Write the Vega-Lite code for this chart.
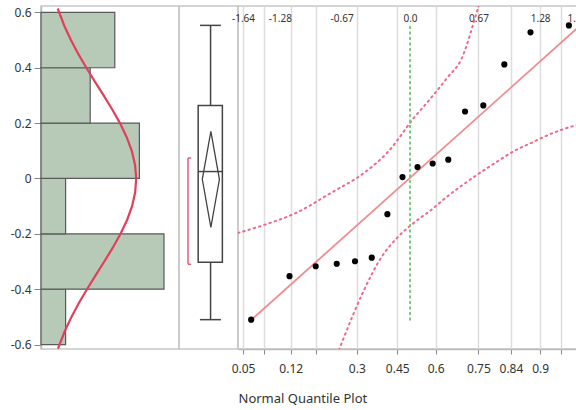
{
  "$schema": "https://vega.github.io/schema/vega-lite/v6.json",
  "padding": {"left": 9, "top": 5, "right": 0, "bottom": 0},
  "background": "white",
  "spacing": 0,
  "bounds": "flush",
  "config": {
    "view": {"stroke": "#c8c8c8", "strokeWidth": 1.5},
    "font": "Noto Sans",
    "axis": {"labelFont": "Noto Sans", "titleFont": "Noto Sans", "labelColor": "#333", "titleColor": "#333", "domainColor": "#bbb", "tickColor": "#888", "domainWidth": 1.5}
  },
  "datasets": {
    "hist": [
      {"lo": -0.6, "hi": -0.4, "count": 1},
      {"lo": -0.4, "hi": -0.2, "count": 5},
      {"lo": -0.2, "hi": 0.0, "count": 1},
      {"lo": 0.0, "hi": 0.2, "count": 4},
      {"lo": 0.2, "hi": 0.4, "count": 2},
      {"lo": 0.4, "hi": 0.6, "count": 3}
    ],
    "curve": [
      {"v": -0.615, "c": 0.689}, {"v": -0.55, "c": 0.975}, {"v": -0.5, "c": 1.239}, {"v": -0.45, "c": 1.54},
      {"v": -0.4, "c": 1.87}, {"v": -0.35, "c": 2.219}, {"v": -0.3, "c": 2.574}, {"v": -0.25, "c": 2.918},
      {"v": -0.2, "c": 3.233}, {"v": -0.15, "c": 3.5}, {"v": -0.1, "c": 3.703}, {"v": -0.05, "c": 3.829},
      {"v": 0.0, "c": 3.87}, {"v": 0.05, "c": 3.822}, {"v": 0.1, "c": 3.69}, {"v": 0.15, "c": 3.48},
      {"v": 0.2, "c": 3.209}, {"v": 0.25, "c": 2.891}, {"v": 0.3, "c": 2.546}, {"v": 0.35, "c": 2.191},
      {"v": 0.4, "c": 1.843}, {"v": 0.45, "c": 1.515}, {"v": 0.5, "c": 1.217}, {"v": 0.55, "c": 0.955},
      {"v": 0.614, "c": 0.678}
    ],
    "pts": [
      {"z": -1.565, "v": -0.51}, {"z": -1.187, "v": -0.353}, {"z": -0.929, "v": -0.317}, {"z": -0.722, "v": -0.308},
      {"z": -0.542, "v": -0.299}, {"z": -0.377, "v": -0.286}, {"z": -0.223, "v": -0.129}, {"z": -0.074, "v": 0.005},
      {"z": 0.074, "v": 0.041}, {"z": 0.223, "v": 0.054}, {"z": 0.377, "v": 0.068}, {"z": 0.542, "v": 0.242},
      {"z": 0.722, "v": 0.264}, {"z": 0.929, "v": 0.412}, {"z": 1.187, "v": 0.528}, {"z": 1.565, "v": 0.553}
    ],
    "conf": [
      {"g": "upper", "z": -1.695, "v": -0.197}, {"g": "upper", "z": -1.438, "v": -0.168}, {"g": "upper", "z": -1.103, "v": -0.121},
      {"g": "upper", "z": -0.778, "v": -0.052}, {"g": "upper", "z": -0.453, "v": 0.02}, {"g": "upper", "z": -0.217, "v": 0.096},
      {"g": "upper", "z": 0.039, "v": 0.219}, {"g": "upper", "z": 0.207, "v": 0.291}, {"g": "upper", "z": 0.374, "v": 0.367},
      {"g": "upper", "z": 0.502, "v": 0.428}, {"g": "upper", "z": 0.67, "v": 0.616}, {"g": "upper", "z": 0.7, "v": 0.652},
      {"g": "lower", "z": -0.7, "v": -0.62}, {"g": "lower", "z": -0.65, "v": -0.573}, {"g": "lower", "z": -0.453, "v": -0.403},
      {"g": "lower", "z": -0.286, "v": -0.287}, {"g": "lower", "z": -0.118, "v": -0.211}, {"g": "lower", "z": 0.049, "v": -0.157},
      {"g": "lower", "z": 0.207, "v": -0.114}, {"g": "lower", "z": 0.374, "v": -0.063}, {"g": "lower", "z": 0.532, "v": -0.02},
      {"g": "lower", "z": 0.7, "v": 0.023}, {"g": "lower", "z": 0.867, "v": 0.063}, {"g": "lower", "z": 1.025, "v": 0.099},
      {"g": "lower", "z": 1.192, "v": 0.128}, {"g": "lower", "z": 1.36, "v": 0.157}, {"g": "lower", "z": 1.517, "v": 0.179},
      {"g": "lower", "z": 1.645, "v": 0.193}
    ],
    "fit": [{"z": -1.576, "v": -0.515}, {"z": 1.8, "v": 0.593}]
  },
  "hconcat": [
    {
      "width": 138,
      "height": 343,
      "layer": [
        {
          "data": {"name": "hist"},
          "mark": {"type": "rect", "fill": "#b7c9b7", "stroke": "#5a5a5a", "strokeWidth": 1.2},
          "encoding": {
            "y": {"field": "lo", "type": "quantitative", "scale": {"domain": [-0.616, 0.623], "nice": false, "zero": false},
              "axis": {"values": [-0.6, -0.4, -0.2, 0, 0.2, 0.4, 0.6], "labelExpr": "datum.value == 0 ? '0' : (datum.value < 0 ? '-' : '') + format(abs(datum.value), '.1f')", "title": null, "tickSize": 7, "labelPadding": 3, "labelFontSize": 12, "grid": false, "labelFlush": false}},
            "y2": {"field": "hi"},
            "x": {"field": "count", "type": "quantitative", "scale": {"domain": [0, 5.61], "nice": false}, "axis": null},
            "x2": {"datum": 0}
          }
        },
        {
          "data": {"name": "curve"},
          "mark": {"type": "line", "color": "#e0405a", "strokeWidth": 2.2, "clip": true},
          "encoding": {
            "x": {"field": "c", "type": "quantitative", "axis": null},
            "y": {"field": "v", "type": "quantitative", "title": null},
            "order": {"field": "v"}
          }
        }
      ]
    },
    {
      "width": 59,
      "height": 343,
      "encoding": {
        "x": {"type": "quantitative", "scale": {"domain": [-1, 1], "nice": false}, "axis": null},
        "y": {"type": "quantitative", "scale": {"domain": [-0.616, 0.623], "nice": false, "zero": false}, "axis": null}
      },
      "layer": [
        {
          "data": {"values": [{"u": 0.07, "lo": -0.51, "hi": 0.553}]},
          "mark": {"type": "rule", "color": "#444", "strokeWidth": 1.5},
          "encoding": {"x": {"field": "u"}, "y": {"field": "lo"}, "y2": {"field": "hi"}}
        },
        {
          "data": {"values": [{"y": 0.553, "u1": -0.29, "u2": 0.42}, {"y": -0.51, "u1": -0.29, "u2": 0.42}]},
          "mark": {"type": "rule", "color": "#444", "strokeWidth": 1.5},
          "encoding": {"x": {"field": "u1"}, "x2": {"field": "u2"}, "y": {"field": "y"}}
        },
        {
          "data": {"values": [{"u1": -0.35, "u2": 0.47, "lo": -0.303, "hi": 0.264}]},
          "mark": {"type": "rect", "fill": "white", "stroke": "#444", "strokeWidth": 1.5},
          "encoding": {"x": {"field": "u1"}, "x2": {"field": "u2"}, "y": {"field": "lo"}, "y2": {"field": "hi"}}
        },
        {
          "data": {"values": [{"y": 0.025, "u1": -0.35, "u2": 0.47}]},
          "mark": {"type": "rule", "color": "#444", "strokeWidth": 1.5},
          "encoding": {"x": {"field": "u1"}, "x2": {"field": "u2"}, "y": {"field": "y"}}
        },
        {
          "data": {"values": [
            {"k": 0, "u": 0.08, "v": 0.17}, {"k": 1, "u": 0.37, "v": -0.003}, {"k": 2, "u": 0.08, "v": -0.177},
            {"k": 3, "u": -0.21, "v": -0.003}, {"k": 4, "u": 0.08, "v": 0.17}
          ]},
          "mark": {"type": "line", "color": "#444", "strokeWidth": 1.3},
          "encoding": {"x": {"field": "u"}, "y": {"field": "v"}, "order": {"field": "k"}}
        },
        {
          "data": {"values": [{"u": -0.695, "lo": -0.31, "hi": 0.074}]},
          "mark": {"type": "rule", "color": "#e06078", "strokeWidth": 1.5},
          "encoding": {"x": {"field": "u"}, "y": {"field": "lo"}, "y2": {"field": "hi"}}
        },
        {
          "data": {"values": [{"y": -0.31, "u1": -0.695, "u2": -0.59}, {"y": 0.074, "u1": -0.695, "u2": -0.59}]},
          "mark": {"type": "rule", "color": "#e06078", "strokeWidth": 1.5},
          "encoding": {"x": {"field": "u1"}, "x2": {"field": "u2"}, "y": {"field": "y"}}
        }
      ]
    },
    {
      "width": 339,
      "height": 343,
      "layer": [
        {
          "data": {"name": "conf"},
          "mark": {"type": "line", "color": "#ee6a8a", "strokeWidth": 2, "strokeDash": [1.5, 4], "strokeCap": "round", "clip": true, "interpolate": "monotone"},
          "encoding": {
            "x": {"field": "z", "type": "quantitative", "scale": {"domain": [-1.6946, 1.645], "nice": false, "zero": false},
              "axis": {"orient": "bottom", "values": [-1.645, -1.438, -1.175, -0.926, -0.524, -0.126, 0.253, 0.674, 0.994, 1.282, 1.488],
                "labelExpr": "datum.value == -1.645 ? '0.05' : datum.value == -1.175 ? '0.12' : datum.value == -0.524 ? '0.3' : datum.value == -0.126 ? '0.45' : datum.value == 0.253 ? '0.6' : datum.value == 0.674 ? '0.75' : datum.value == 0.994 ? '0.84' : datum.value == 1.282 ? '0.9' : ''",
                "grid": true, "gridColor": "#dddddd", "gridWidth": 1.5, "tickSize": 5, "labelFontSize": 12, "labelPadding": 9, "labelOverlap": false, "labelFlush": false,
                "title": "Normal Quantile Plot", "titleAnchor": "start", "titleFontSize": 13, "titleFontWeight": "normal", "titlePadding": 18}},
            "y": {"field": "v", "type": "quantitative", "scale": {"domain": [-0.616, 0.623], "nice": false, "zero": false}, "axis": null},
            "detail": {"field": "g"},
            "order": {"field": "z"}
          }
        },
        {
          "data": {"name": "fit"},
          "mark": {"type": "line", "color": "#f08c90", "strokeWidth": 1.8, "clip": true},
          "encoding": {
            "x": {"field": "z", "type": "quantitative",
              "axis": {"orient": "top", "values": [-1.645, -1.282, -0.674, 0, 0.674, 1.282, 1.645],
                "labelExpr": "datum.value == -1.645 ? '-1.64' : datum.value == -1.282 ? '-1.28' : datum.value == -0.674 ? '-0.67' : datum.value == 0 ? '0.0' : datum.value == 0.674 ? '0.67' : datum.value == 1.282 ? '1.28' : '1.64'",
                "grid": false, "ticks": false, "labelPadding": -12, "labelBaseline": "middle", "labelFontSize": 10, "title": null, "domain": false, "labelOverlap": false, "labelFlush": false}},
            "y": {"field": "v", "type": "quantitative", "axis": null}
          }
        },
        {
          "data": {"values": [{"z": 0, "lo": -0.51, "hi": 0.553}]},
          "mark": {"type": "rule", "color": "#7cc87c", "strokeWidth": 2, "strokeDash": [1.5, 4], "strokeCap": "round"},
          "encoding": {"x": {"field": "z", "type": "quantitative", "axis": null}, "y": {"field": "lo", "type": "quantitative", "axis": null}, "y2": {"field": "hi"}}
        },
        {
          "data": {"name": "pts"},
          "mark": {"type": "circle", "color": "black", "size": 38, "opacity": 1},
          "encoding": {"x": {"field": "z", "type": "quantitative", "axis": null}, "y": {"field": "v", "type": "quantitative", "axis": null}}
        }
      ]
    }
  ]
}
